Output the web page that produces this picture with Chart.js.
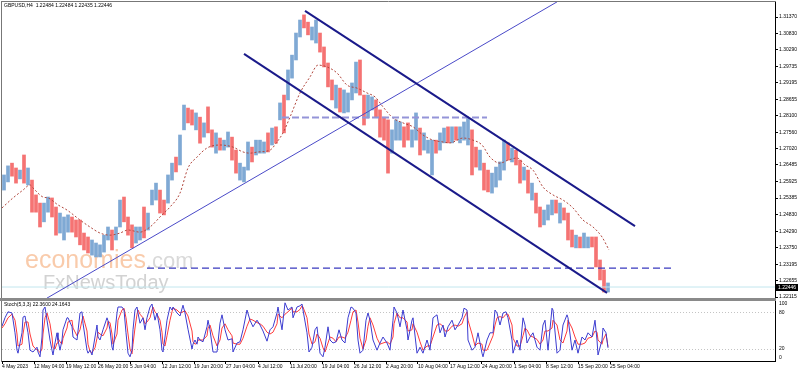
<!DOCTYPE html>
<html><head><meta charset="utf-8">
<script src="https://cdn.jsdelivr.net/npm/chart.js@4"></script>
<style>
html,body{margin:0;padding:0;background:#fff;}
#wrap{position:relative;width:798px;height:372px;overflow:hidden;background:#fff;}
#c1{position:absolute;left:0;top:0;}
#c2{position:absolute;left:0;top:301px;}
</style></head><body>
<div id="wrap"><canvas id="c1" width="798" height="301"></canvas><canvas id="c2" width="798" height="71"></canvas></div>
<script>
// ---------------- DATA ----------------
const chartTitle = 'GBPUSD,H4  1.22484 1.22484 1.22435 1.22446';
const stochTitle = 'Stoch(5,3,3) 22.3600 24.1643';
const lastPrice = 1.22446;

// time axis (H4 bar index from 4 May 2023 00:00)
const timeTickBars = [0,32,64,96,128,160,192,224,256,288,320,352,384,416,448,480,512,544,576,608];
const timeTickLabels = ['4 May 2023','12 May 04:00','19 May 12:00','26 May 20:00','5 Jun 04:00','12 Jun 12:00','19 Jun 20:00','27 Jun 04:00','4 Jul 12:00','11 Jul 20:00','19 Jul 04:00','26 Jul 12:00','2 Aug 20:00','10 Aug 04:00','17 Aug 12:00','24 Aug 20:00','1 Sep 04:00','8 Sep 12:00','15 Sep 20:00','25 Sep 04:00'];

const priceTicks = [1.31370,1.30830,1.30290,1.29735,1.29195,1.28655,1.28100,1.27560,1.27020,1.26485,1.25925,1.25385,1.24830,1.24290,1.23750,1.23195,1.22655,1.22115];
const stochTicks = [20, 80];

// price, one sample per 4 H4 bars (high / low / direction)
const highs = [
1.2615,1.2645,1.2654,1.2638,1.2631,1.2681,1.2638,1.2598,1.2549,1.2522,
1.2522,1.2542,1.2539,1.2509,1.2489,1.2476,1.2483,1.2476,1.2466,1.2466,
1.2423,1.2410,1.2400,1.2390,1.2384,1.2416,1.2443,1.2433,1.2443,1.2532,
1.2542,1.2476,1.2450,1.2443,1.2443,1.2509,1.2489,1.2565,1.2588,1.2565,
1.2532,1.2615,1.2654,1.2674,1.2747,1.2846,1.2836,1.2830,1.2820,1.2806,
1.2787,1.2840,1.2764,1.2754,1.2737,1.2730,1.2757,1.2740,1.2697,1.2654,
1.2641,1.2724,1.2707,1.2730,1.2730,1.2724,1.2754,1.2770,1.2774,1.2853,
1.2879,1.2962,1.3011,1.3084,1.3127,1.3144,1.3120,1.3104,1.3127,1.3084,
1.3038,1.2985,1.2929,1.2912,1.2902,1.2896,1.2886,1.2919,1.2988,1.2995,
1.2879,1.2879,1.2873,1.2863,1.2830,1.2806,1.2797,1.2764,1.2797,1.2790,
1.2774,1.2787,1.2764,1.2820,1.2770,1.2754,1.2730,1.2730,1.2730,1.2754,
1.2770,1.2774,1.2774,1.2774,1.2774,1.2790,1.2803,1.2764,1.2707,1.2697,
1.2654,1.2631,1.2621,1.2641,1.2658,1.2730,1.2721,1.2704,1.2697,1.2664,
1.2641,1.2631,1.2588,1.2555,1.2509,1.2499,1.2516,1.2532,1.2532,1.2522,
1.2506,1.2489,1.2433,1.2416,1.2410,1.2423,1.2410,1.2410,1.2410,1.2334,
1.2301,1.2258];
const lows = [
1.2565,1.2592,1.2611,1.2588,1.2602,1.2588,1.2582,1.2492,1.2492,1.2443,
1.2460,1.2492,1.2476,1.2416,1.2423,1.2400,1.2426,1.2426,1.2410,1.2384,
1.2367,1.2357,1.2350,1.2344,1.2344,1.2360,1.2400,1.2367,1.2400,1.2443,
1.2460,1.2416,1.2374,1.2390,1.2400,1.2407,1.2433,1.2516,1.2532,1.2489,
1.2483,1.2522,1.2598,1.2625,1.2648,1.2764,1.2787,1.2780,1.2764,1.2720,
1.2740,1.2754,1.2707,1.2687,1.2697,1.2697,1.2707,1.2664,1.2621,1.2598,
1.2592,1.2631,1.2658,1.2681,1.2687,1.2687,1.2691,1.2714,1.2720,1.2797,
1.2754,1.2863,1.2935,1.2995,1.3071,1.3101,1.3078,1.3061,1.3051,1.3021,
1.2972,1.2906,1.2863,1.2836,1.2823,1.2820,1.2823,1.2863,1.2886,1.2879,
1.2780,1.2803,1.2830,1.2806,1.2740,1.2730,1.2621,1.2687,1.2730,1.2730,
1.2707,1.2730,1.2707,1.2730,1.2681,1.2697,1.2687,1.2615,1.2687,1.2697,
1.2721,1.2721,1.2721,1.2730,1.2721,1.2730,1.2714,1.2615,1.2641,1.2631,
1.2565,1.2559,1.2555,1.2575,1.2598,1.2631,1.2664,1.2658,1.2648,1.2588,
1.2598,1.2555,1.2532,1.2489,1.2443,1.2450,1.2466,1.2483,1.2489,1.2456,
1.2466,1.2400,1.2377,1.2374,1.2374,1.2374,1.2374,1.2377,1.2311,1.2268,
1.2228,1.2228];
const barDir = [
1,1,-1,-1,1,-1,1,-1,-1,-1,
1,1,-1,-1,1,1,1,-1,-1,-1,
-1,-1,1,1,1,1,1,-1,1,1,
-1,-1,-1,1,1,-1,1,1,1,-1,
-1,1,1,-1,1,1,-1,-1,1,-1,
1,-1,-1,1,-1,1,1,-1,-1,1,
1,1,-1,1,1,1,-1,1,-1,1,
-1,1,1,1,1,-1,-1,1,1,-1,
-1,-1,-1,1,-1,1,1,1,1,-1,
-1,1,1,-1,-1,-1,-1,1,1,1,
-1,-1,1,1,-1,1,1,1,-1,1,
1,-1,1,-1,1,1,1,-1,-1,1,
-1,-1,1,1,1,1,-1,1,-1,-1,
1,-1,1,-1,-1,1,1,1,-1,1,
-1,-1,-1,1,-1,1,1,-1,-1,-1,
-1,1];

// moving average (read at selected bars)
const maBars = [0,11,21,28,31,41,46,56,65,78,88,98,108,118,126,138,148,160,168,178,186,195,205,218,231,241,248,256,268,275,281,288,298,308,316,325,335,345,355,365,373,381,391,401,411,421,431,441,448,461,471,480,488,498,506,515,523,531,541,551,561,571,581,591,600,607];
const maValues = [1.2506,1.2539,1.2565,1.2582,1.2572,1.2542,1.2539,1.2516,1.2499,1.2466,
1.2443,1.2423,1.2416,1.2423,1.2433,1.2426,1.2443,1.2483,1.2509,1.2555,
1.2638,1.2674,1.2704,1.2714,1.2707,1.2691,1.2687,1.2691,1.2697,1.2724,
1.2754,1.2806,1.2886,1.2939,1.2978,1.2972,1.2952,1.2912,1.2902,1.2886,
1.2873,1.2840,1.2803,1.2787,1.2774,1.2747,1.2730,1.2724,1.2721,1.2737,
1.2730,1.2714,1.2674,1.2654,1.2664,1.2671,1.2648,1.2631,1.2575,1.2549,
1.2532,1.2506,1.2466,1.2443,1.2410,1.2367];

// drawn objects: [bar, price] end points
const upperChannel = [[303,1.3157],[633,1.2446]];
const lowerChannel = [[242,1.3015],[605,1.2225]];
const risingTrend = [[45,1.2208],[555,1.3187]];
const resistLevel = [[280,1.2805],[485,1.2805]];
const supportLevel = [[145,1.2307],[670,1.2307]];

// stochastic (5,3,3)
const stochBars = [0,3,6,10,13,15,16,20,21,23,26,28,31,35,36,38,40,41,43,45,
48,50,51,53,55,56,58,60,61,65,66,70,71,75,78,80,81,85,86,88,
90,93,95,96,98,101,105,106,108,110,111,115,116,120,122,124,126,128,130,131,
133,135,136,138,141,143,145,148,150,151,153,155,158,160,161,163,165,168,170,171,
175,178,181,183,186,190,191,193,195,196,198,201,205,206,208,211,215,218,220,223,
226,230,231,235,238,241,245,248,251,255,258,261,265,268,271,275,276,280,283,286,
290,291,295,298,300,301,305,307,310,313,315,318,321,323,326,328,331,334,337,340,
343,346,349,351,354,356,358,361,364,366,368,371,375,378,381,385,388,391,392,395,
398,401,405,406,410,411,415,418,421,425,428,431,435,438,441,443,446,450,453,456,
460,462,465,466,470,473,476,480,481,485,488,491,493,495,498,501,504,506,510,511,
515,518,521,523,525,528,531,535,538,541,543,546,550,551,555,558,561,565,566,570,
573,576,580,583,586,590,593,595,596,600,601,604,606];
const stochK = [58,72,82,80,47,18,13,47,73,75,47,18,15,23,15,7,40,85,90,68,
35,18,10,30,47,35,18,35,52,72,72,57,40,35,80,82,63,18,13,18,
10,40,60,40,35,52,72,67,52,23,18,80,90,90,85,47,13,7,18,52,
85,90,80,63,72,52,72,90,95,85,68,80,52,18,15,40,68,90,85,90,
80,75,93,80,53,20,28,35,28,40,35,32,57,68,52,15,15,63,77,52,
35,37,15,30,32,52,85,68,57,68,60,50,33,52,57,80,90,52,97,85,
90,72,90,92,95,85,47,15,23,52,57,13,7,23,57,35,30,32,52,35,
30,72,90,88,80,35,13,18,68,80,68,35,18,30,40,30,18,68,90,80,
57,85,52,35,68,72,13,23,13,35,18,72,77,47,60,40,57,68,52,60,
72,88,85,35,18,23,47,13,7,35,47,47,85,80,60,80,82,72,35,13,
35,18,72,60,30,40,47,23,18,60,68,18,88,85,13,18,60,77,72,18,
35,13,40,35,47,40,68,35,10,35,55,47,22];
const stochD = [55,62,72,78,68,45,25,28,45,65,65,45,25,18,18,14,20,45,72,80,
62,40,22,20,30,38,32,28,38,55,65,68,55,42,52,68,75,50,28,16,
14,22,38,48,45,42,55,66,64,45,28,45,68,85,88,72,45,20,12,28,
55,78,85,78,72,62,65,72,85,90,82,78,68,48,28,25,42,68,82,88,
85,80,82,84,75,50,32,28,30,35,35,35,42,55,60,42,25,35,55,62,
52,42,30,28,28,38,58,70,68,64,62,58,48,45,48,62,78,72,78,82,
88,82,82,86,92,90,72,45,28,32,45,38,22,15,30,40,38,32,40,40,
38,48,68,82,85,65,38,20,35,58,72,60,38,28,30,32,28,40,62,80,
72,72,65,50,52,62,48,32,18,25,25,40,60,62,58,50,50,58,60,58,
62,72,82,68,45,25,30,28,18,18,30,42,60,72,74,72,78,78,60,38,
25,25,42,55,52,42,40,36,28,35,50,50,55,68,60,35,30,50,68,55,
40,28,28,30,38,40,50,48,35,28,35,45,24];

// ---------------- RENDER ----------------
Chart.defaults.font.family = '"Liberation Sans", Arial, sans-serif';
Chart.defaults.color = '#000';
const FONT = {size: 5, family: '"Liberation Sans", Arial, sans-serif'};
const sampleBar = highs.map((_, i) => 2 + 4 * i);
const BLUE = '#7fa9d4', RED = '#f57373';
const pts = a => a.map(p => ({x: p[0], y: p[1]}));
const lineDs = (data, color, width, dash, order) => ({type:'line', data, borderColor:color, borderWidth:width, borderDash:dash||[], pointRadius:0, fill:false, order, tension:0});

const fixY = s => { s.width = 23; s.paddingTop = 0; s.paddingBottom = 0; };
const fixX = s => { s.paddingLeft = 0; s.paddingRight = 0; };

const mainDecor = {
  id: 'mainDecor',
  beforeDatasetsDraw(chart) {
    const ctx = chart.ctx; ctx.save();
    ctx.textBaseline = 'alphabetic';
    ctx.font = '25px "Liberation Sans"';
    ctx.fillStyle = '#f9cbab';
    ctx.fillText('economies', 25, 268);
    const w = ctx.measureText('economies').width;
    ctx.font = '22px "Liberation Sans"';
    ctx.fillStyle = '#d9d9d9';
    ctx.fillText('.com', 25 + w, 268);
    ctx.font = '20px "Liberation Sans"';
    ctx.fillStyle = '#d2d2d2';
    ctx.fillText('FxNewsToday', 43, 289);
    ctx.restore();
  },
  afterDraw(chart) {
    const ctx = chart.ctx; ctx.save();
    ctx.strokeStyle = '#777'; ctx.lineWidth = 1;
    ctx.beginPath(); ctx.moveTo(1.5, 1); ctx.lineTo(1.5, 301); ctx.stroke();
    ctx.beginPath(); ctx.moveTo(1, 1.5); ctx.lineTo(776, 1.5); ctx.stroke();
    ctx.fillStyle = '#8a8a8a'; ctx.fillRect(0, 298, 776, 3);
    ctx.font = '5px "Liberation Sans"'; ctx.textBaseline = 'middle'; ctx.fillStyle = '#000';
    ctx.fillText(chartTitle, 4, 6);
    const yp = chart.scales.y.getPixelForValue(lastPrice);
    ctx.fillStyle = '#000'; ctx.fillRect(776, Math.round(yp) - 3, 22, 7);
    ctx.fillStyle = '#fff'; ctx.fillText(lastPrice.toFixed(5), 778, Math.round(yp) + 0.5);
    ctx.restore();
  }
};

new Chart(document.getElementById('c1'), {
  type: 'bar',
  data: { datasets: [
    { type:'bar', data: sampleBar.map((b, i) => ({x: b, y: [lows[i], highs[i]]})),
      backgroundColor: barDir.map(d => d > 0 ? BLUE : RED), borderWidth: 0, barThickness: 3, order: 10 },
    Object.assign(lineDs(maBars.map((b, i) => ({x: b, y: maValues[i]})), '#b0463c', 1, [2, 2], 8), {cubicInterpolationMode: 'monotone'}),
    lineDs(pts(upperChannel), '#1a1a8a', 2, [], 3),
    lineDs(pts(lowerChannel), '#1a1a8a', 2, [], 3),
    lineDs(pts(risingTrend), '#4a4ac8', 1, [], 4),
    lineDs(pts(resistLevel), '#9494d8', 2, [7, 3], 4),
    lineDs(pts(supportLevel), '#3a3abf', 1.2, [7, 4], 4),
    lineDs([{x: 0, y: lastPrice}, {x: 773, y: lastPrice}], '#c2e6ee', 1, [], 9)
  ]},
  options: {
    responsive: false, animation: false, devicePixelRatio: 1,
    layout: { padding: {left: 2, top: 2, right: 0, bottom: 3} },
    plugins: { legend: {display: false}, tooltip: {enabled: false} },
    scales: {
      x: { type: 'linear', min: 0, max: 773, offset: false, display: false, afterFit: fixX },
      y: { type: 'linear', position: 'right', min: 1.220831, max: 1.318659,
        afterFit: fixY,
        afterBuildTicks: s => { s.ticks = priceTicks.map(v => ({value: v})); },
        grid: { drawOnChartArea: false, drawTicks: true, tickLength: 3, color: '#000' },
        border: { display: true, color: '#000', width: 1 },
        ticks: { autoSkip: false, padding: 1, font: FONT, color: '#000', callback: v => Number(v).toFixed(5) } }
    }
  },
  plugins: [mainDecor]
});

const stochDecor = {
  id: 'stochDecor',
  afterDraw(chart) {
    const ctx = chart.ctx; ctx.save();
    ctx.strokeStyle = '#777'; ctx.lineWidth = 1;
    ctx.beginPath(); ctx.moveTo(1.5, 0); ctx.lineTo(1.5, 61); ctx.stroke();
    ctx.font = '5px "Liberation Sans"'; ctx.textBaseline = 'middle'; ctx.fillStyle = '#000';
    ctx.fillText(stochTitle, 4, 4);
    ctx.fillText('100', 779, 3);
    ctx.fillText('0', 779, 57);
    ctx.restore();
  }
};

new Chart(document.getElementById('c2'), {
  type: 'line',
  data: { datasets: [
    lineDs(stochBars.map((b, i) => ({x: b, y: stochD[i]})), '#ff3b3b', 1, [], 2),
    lineDs(stochBars.map((b, i) => ({x: b, y: stochK[i]})), '#3c3cd0', 1, [], 1)
  ]},
  options: {
    responsive: false, animation: false, devicePixelRatio: 1,
    layout: { padding: {left: 2, top: 0, right: 0, bottom: 0} },
    plugins: { legend: {display: false}, tooltip: {enabled: false} },
    scales: {
      x: { type: 'linear', min: 0, max: 773, offset: false,
        afterFit: s => { s.height = 11; s.paddingLeft = 0; s.paddingRight = 0; },
        afterBuildTicks: s => { s.ticks = timeTickBars.map(v => ({value: v})); },
        grid: { drawOnChartArea: false, drawTicks: true, tickLength: 3, color: '#000', offset: false },
        border: { display: true, color: '#000', width: 1 },
        ticks: { autoSkip: false, maxRotation: 0, minRotation: 0, align: 'start', padding: 0, font: FONT, color: '#000',
          callback: (v, i) => timeTickLabels[i] } },
      y: { type: 'linear', position: 'right', min: 0, max: 100,
        afterFit: fixY,
        afterBuildTicks: s => { s.ticks = stochTicks.map(v => ({value: v})); },
        grid: { drawOnChartArea: true, drawTicks: false, color: '#c4c4c4' },
        border: { display: true, color: '#000', width: 1, dash: [1, 2] },
        ticks: { autoSkip: false, padding: 4, font: FONT, color: '#000' } }
    }
  },
  plugins: [stochDecor]
});
</script>
</body></html>
